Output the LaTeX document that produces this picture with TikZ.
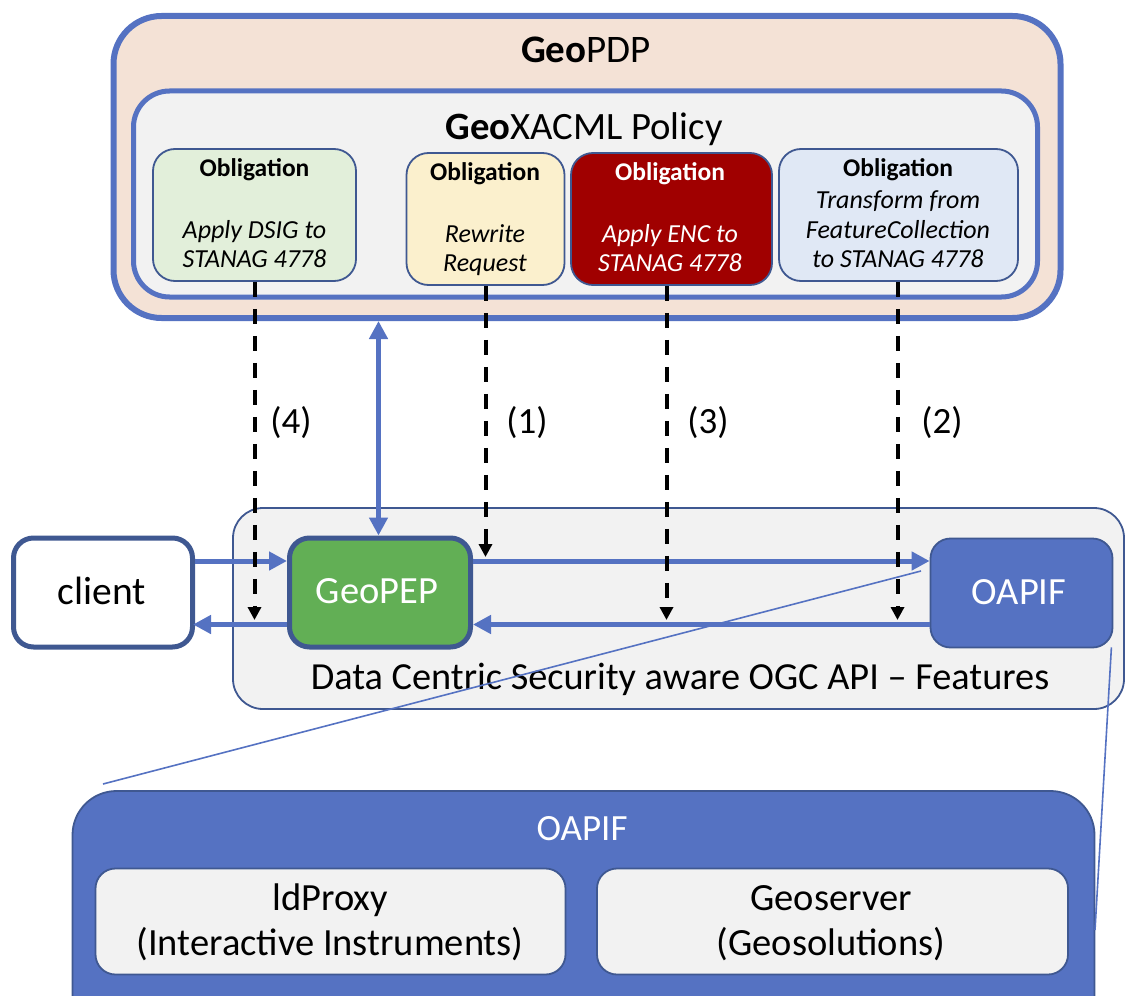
\documentclass[tikz,border=0pt]{standalone}
\usepackage{fontspec}
\setmainfont{Carlito}
\usetikzlibrary{arrows.meta}
\definecolor{accent}{RGB}{85,114,194}
\definecolor{edge}{RGB}{63,88,145}
\definecolor{peach}{RGB}{244,226,214}
\definecolor{panel}{RGB}{242,242,242}
\definecolor{oblgreen}{RGB}{226,239,218}
\definecolor{oblyellow}{RGB}{251,240,205}
\definecolor{oblred}{RGB}{160,0,0}
\definecolor{oblblue}{RGB}{224,232,245}
\definecolor{pepgreen}{RGB}{98,175,85}
\newcommand{\fsz}[2]{\fontsize{#1}{#2}\selectfont}

\begin{document}
\begin{tikzpicture}[x=1pt,y=-1pt,
  box/.style={rectangle, inner sep=0pt},
  oblbox/.style={box, draw=edge, line width=1.8pt, rounded corners=22pt},
  head/.style={anchor=base, inner sep=0pt, font=\fsz{25.5}{30}\bfseries},
  body/.style={anchor=base, inner sep=0pt, font=\fsz{26}{30}\itshape},
  label/.style={inner sep=0pt, font=\fsz{37}{44}},
  big/.style={anchor=base, inner sep=0pt, font=\fsz{38.5}{46}},
  flow/.style={draw=accent, line width=5pt, -{Triangle[length=18pt,width=18pt]}},
  twoway/.style={draw=accent, line width=5pt, {Triangle[length=18pt,width=18pt]}-{Triangle[length=18pt,width=18pt]}},
  oblig/.style={draw=black, line width=4pt, dash pattern=on 15pt off 12pt, -{Triangle[length=13pt,width=13pt]}},
  zoomline/.style={draw=accent, line width=1.6pt}]
\useasboundingbox (0,0) rectangle (1126,995);
\clip (0,0) rectangle (1126,995);

% policy decision point
\node[box, draw=accent, fill=peach, line width=6pt, rounded corners=48pt,
  minimum width=947pt, minimum height=302pt] (pdp) at (587,167) {};
\node[anchor=base, inner sep=0pt, font=\fsz{39}{46}] (pdptitle) at (586,63) {\textbf{Geo}PDP};
\node[box, draw=accent, fill=panel, line width=5pt, rounded corners=36pt,
  minimum width=904pt, minimum height=206pt] (policy) at (585.5,194) {};
\node[anchor=base, inner sep=0pt, font=\fsz{38.7}{46}] (policytitle) at (584,140) {\textbf{Geo}XACML Policy};

% obligations
\node[oblbox, fill=oblgreen, minimum width=203pt, minimum height=132pt] (oblG) at (254.5,215) {};
\node[oblbox, fill=oblyellow, minimum width=158pt, minimum height=132pt] (oblY) at (485.5,219) {};
\node[oblbox, fill=oblred, minimum width=201pt, minimum height=132pt] (oblR) at (671.5,219) {};
\node[oblbox, fill=oblblue, minimum width=239pt, minimum height=132pt] (oblB) at (898.5,215) {};

\node[head] (hG) at (254.5,176) {Obligation};
\node[body] (bG1) at (254.5,238) {Apply DSIG to};
\node[body] (bG2) at (254.5,267) {STANAG 4778};
\node[head] (hY) at (485,180) {Obligation};
\node[body] (bY1) at (485,242) {Rewrite};
\node[body] (bY2) at (485,271) {Request};
\node[head, text=white] (hR) at (670,180) {Obligation};
\node[body, text=white] (bR1) at (670,242) {Apply ENC to};
\node[body, text=white] (bR2) at (670,271) {STANAG 4778};
\node[head] (hB) at (898,176) {Obligation};
\node[body] (bB1) at (898,208) {Transform from};
\node[body] (bB2) at (898,238) {FeatureCollection};
\node[body] (bB3) at (898,267) {to STANAG 4778};

% data centric security service
\node[box, draw=edge, fill=panel, line width=1.8pt, rounded corners=30pt,
  minimum width=891pt, minimum height=201pt] (dcs) at (678.5,608.5) {};
\node[anchor=base, inner sep=0pt, font=\fsz{38.3}{46}] (dcstitle) at (680,689) {Data Centric Security aware OGC API -- Features};

\node[box, draw=edge, fill=white, line width=5pt, rounded corners=20pt,
  minimum width=179pt, minimum height=109pt] (client) at (103,592.5) {};
\node[big, font=\fsz{39.5}{46}] (clienttext) at (102,604) {client};
\node[box, draw=edge, fill=pepgreen, line width=5pt, rounded corners=20pt,
  minimum width=181pt, minimum height=109pt] (pep) at (380,592.5) {};
\node[big, text=white] (peptext) at (377,603) {GeoPEP};
\node[box, draw=edge, fill=accent, line width=1.8pt, rounded corners=20pt,
  minimum width=182pt, minimum height=109pt] (oapif) at (1021.5,593) {};
\node[big, text=white] (oapiftext) at (1019,604) {OAPIF};

% rails for the request and response flows
\coordinate (req) at (0,561);
\coordinate (resp) at (0,624.5);
\draw[flow] (client.east |- req) -- (pep.west |- req);
\draw[flow] (pep.west |- resp) -- ([xshift=-2pt]client.east |- resp);
\draw[flow] (pep.east |- req) -- (oapif.west |- req);
\draw[flow] (oapif.west |- resp) -- (pep.east |- resp);
\coordinate (pdpx) at (378.5,0);
\draw[twoway] (pdpx |- pdp.south) -- (pdpx |- pep.north);

% obligations applied to the flows
\coordinate (onreq) at (0,557);
\coordinate (onresp) at (0,620);
\draw[oblig] (oblG.south) -- (oblG.south |- onresp);
\draw[oblig] (oblY.south) -- (oblY.south |- onreq);
\draw[oblig] ([xshift=-5pt]oblR.south) -- ([xshift=-5pt]oblR.south |- onresp);
\draw[oblig] ([xshift=-1pt]oblB.south) -- ([xshift=-1pt]oblB.south |- onresp);
\node[label] (n4) at (291,423) {(4)};
\node[label] (n1) at (527,423) {(1)};
\node[label] (n3) at (708,423) {(3)};
\node[label] (n2) at (942,423) {(2)};

% implementations of the features API
\node[box, draw=edge, fill=accent, line width=1.8pt, rounded corners=44pt,
  minimum width=1022pt, minimum height=260pt] (impl) at (583.5,921) {};
\node[big, text=white, font=\fsz{37}{44}] (impltitle) at (582,840) {OAPIF};
\node[box, draw=edge, fill=panel, line width=1.8pt, rounded corners=20pt,
  minimum width=470pt, minimum height=106pt] (ldp) at (330.5,921.5) {};
\node[big] (ldp1) at (330,910) {ldProxy};
\node[big] (ldp2) at (330,955) {(Interactive Instruments)};
\node[box, draw=edge, fill=panel, line width=1.8pt, rounded corners=20pt,
  minimum width=471pt, minimum height=106pt] (gs) at (832.5,921.5) {};
\node[big] (gs1) at (831,910) {Geoserver};
\node[big] (gs2) at (831,955) {(Geosolutions)};

% zoom lines from the service to its detail
\coordinate (zA) at (921,571);
\coordinate (zB) at (103,784);
\coordinate (zD) at (1095,930);
\draw[zoomline] (zA) -- (zB);
\draw[zoomline] ([xshift=-2pt,yshift=1pt]oapif.south east) -- (zD);
\end{tikzpicture}
\end{document}
